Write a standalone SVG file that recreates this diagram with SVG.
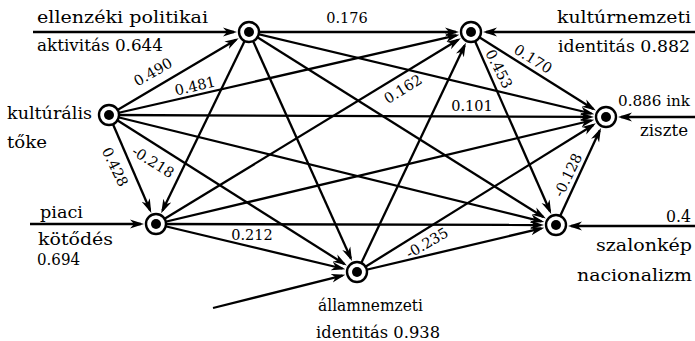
<svg xmlns="http://www.w3.org/2000/svg" width="695" height="341" viewBox="0 0 695 341">
<defs>
<style>
.e{stroke:#000;stroke-width:2.3;fill:none;marker-end:url(#ah)}
.ring{fill:#fff;stroke:#000;stroke-width:2.4}
.dot{fill:#000}
.lbl{font-family:"DejaVu Serif",serif;font-size:17px;fill:#000}
.num{font-family:"DejaVu Serif",serif;font-size:14.5px;fill:#000}
</style>
<marker id="ah" markerUnits="userSpaceOnUse" markerWidth="15" markerHeight="11" refX="11" refY="5" orient="auto">
<path d="M0,0.6 L14,5 L0,9.4 L4,5 Z" fill="#000"/>
</marker>
</defs>
<rect width="695" height="341" fill="#fff"/>
<g id="connectors">
<line class="e" x1="109" y1="115" x2="236.1" y2="39.7"/>
<line class="e" x1="109" y1="115" x2="456.4" y2="35.4"/>
<line class="e" x1="109" y1="115" x2="591" y2="116.9"/>
<line class="e" x1="109" y1="115" x2="541.4" y2="221.4"/>
<line class="e" x1="109" y1="115" x2="344.3" y2="264"/>
<line class="e" x1="109" y1="115" x2="150.1" y2="210.2"/>
<line class="e" x1="249" y1="32" x2="456" y2="32"/>
<line class="e" x1="249" y1="32" x2="591.4" y2="113.5"/>
<line class="e" x1="249" y1="32" x2="543.3" y2="217"/>
<line class="e" x1="249" y1="32" x2="350.8" y2="258.3"/>
<line class="e" x1="249" y1="32" x2="162.5" y2="210.5"/>
<line class="e" x1="156" y1="224" x2="458.2" y2="39.8"/>
<line class="e" x1="156" y1="224" x2="591.4" y2="120.5"/>
<line class="e" x1="156" y1="224" x2="541" y2="225"/>
<line class="e" x1="156" y1="224" x2="342.4" y2="268.5"/>
<line class="e" x1="357" y1="272" x2="464.6" y2="45.5"/>
<line class="e" x1="357" y1="272" x2="593.3" y2="124.9"/>
<line class="e" x1="357" y1="272" x2="541.4" y2="228.4"/>
<line class="e" x1="471" y1="32" x2="593.3" y2="109"/>
<line class="e" x1="471" y1="32" x2="550" y2="211.3"/>
<line class="e" x1="556" y1="225" x2="599.7" y2="130.6"/>
<line class="e" x1="33" y1="32" x2="234" y2="32"/>
<line class="e" x1="695" y1="32" x2="486" y2="32"/>
<line class="e" x1="695" y1="117" x2="621" y2="117"/>
<line class="e" x1="695" y1="226" x2="571" y2="226"/>
<line class="e" x1="30" y1="224" x2="141" y2="224"/>
<line class="e" x1="213" y1="308" x2="342.4" y2="275.6"/>
</g>
<g id="edge-labels">
<text class="num" x="347" y="23" text-anchor="middle">0.176</text>
<text class="num" transform="translate(153,72) rotate(-30)" x="0" y="5" text-anchor="middle">0.490</text>
<text class="num" transform="translate(195,86) rotate(-13)" x="0" y="5" text-anchor="middle">0.481</text>
<text class="num" x="472" y="111" text-anchor="middle">0.101</text>
<text class="num" transform="translate(403,89) rotate(-32)" x="0" y="5" text-anchor="middle">0.162</text>
<text class="num" transform="translate(115,167) rotate(64)" x="0" y="5" text-anchor="middle">0.428</text>
<text class="num" transform="translate(153,162) rotate(32)" x="0" y="5" text-anchor="middle">-0.218</text>
<text class="num" x="252" y="240" text-anchor="middle">0.212</text>
<text class="num" transform="translate(427,243) rotate(-30)" x="0" y="5" text-anchor="middle">-0.235</text>
<text class="num" transform="translate(533,59) rotate(32)" x="0" y="5" text-anchor="middle">0.170</text>
<text class="num" transform="translate(499,69) rotate(63)" x="0" y="5" text-anchor="middle">0.453</text>
<text class="num" transform="translate(568,175) rotate(-64)" x="0" y="5" text-anchor="middle">-0.128</text>
</g>
<g id="node-ellenzeki">
<circle class="ring" cx="249" cy="32" r="10"/><circle class="dot" cx="249" cy="32" r="5"/>
<text class="lbl" x="37" y="23" textLength="171" lengthAdjust="spacingAndGlyphs">ellenzéki politikai</text>
<text class="lbl" x="37" y="51" textLength="126" lengthAdjust="spacingAndGlyphs">aktivitás 0.644</text>
</g>
<g id="node-kulturnemzeti">
<circle class="ring" cx="471" cy="32" r="10"/><circle class="dot" cx="471" cy="32" r="5"/>
<text class="lbl" x="557" y="23" textLength="134" lengthAdjust="spacingAndGlyphs">kultúrnemzeti</text>
<text class="lbl" x="558" y="52" textLength="132" lengthAdjust="spacingAndGlyphs">identitás 0.882</text>
</g>
<g id="node-kulturalis">
<circle class="ring" cx="109" cy="115" r="10"/><circle class="dot" cx="109" cy="115" r="5"/>
<text class="lbl" x="7" y="119" textLength="85" lengthAdjust="spacingAndGlyphs">kultúrális</text>
<text class="lbl" x="7" y="148" textLength="40" lengthAdjust="spacingAndGlyphs">tőke</text>
</g>
<g id="node-inkluziv">
<circle class="ring" cx="606" cy="117" r="10"/><circle class="dot" cx="606" cy="117" r="5"/>
<text class="lbl" x="618" y="106" style="font-size:15px" textLength="72" lengthAdjust="spacingAndGlyphs">0.886 ink</text>
<text class="lbl" x="640" y="136" textLength="48" lengthAdjust="spacingAndGlyphs">ziszte</text>
</g>
<g id="node-piaci">
<circle class="ring" cx="156" cy="224" r="10"/><circle class="dot" cx="156" cy="224" r="5"/>
<text class="lbl" x="40" y="218" textLength="43" lengthAdjust="spacingAndGlyphs">piaci</text>
<text class="lbl" x="38" y="245" textLength="75" lengthAdjust="spacingAndGlyphs">kötődés</text>
<text class="lbl" x="37" y="265" textLength="43" lengthAdjust="spacingAndGlyphs">0.694</text>
</g>
<g id="node-allamnemzeti">
<circle class="ring" cx="357" cy="272" r="10"/><circle class="dot" cx="357" cy="272" r="5"/>
<text class="lbl" x="318" y="311" textLength="105" lengthAdjust="spacingAndGlyphs">államnemzeti</text>
<text class="lbl" x="316" y="338" textLength="124" lengthAdjust="spacingAndGlyphs">identitás 0.938</text>
</g>
<g id="node-szalonkepes">
<circle class="ring" cx="556" cy="225" r="10"/><circle class="dot" cx="556" cy="225" r="5"/>
<text class="lbl" x="666" y="222" textLength="25" lengthAdjust="spacingAndGlyphs">0.4</text>
<text class="lbl" x="596" y="251" textLength="96" lengthAdjust="spacingAndGlyphs">szalonkép</text>
<text class="lbl" x="577" y="281" textLength="115" lengthAdjust="spacingAndGlyphs">nacionalizm</text>
</g>
</svg>
